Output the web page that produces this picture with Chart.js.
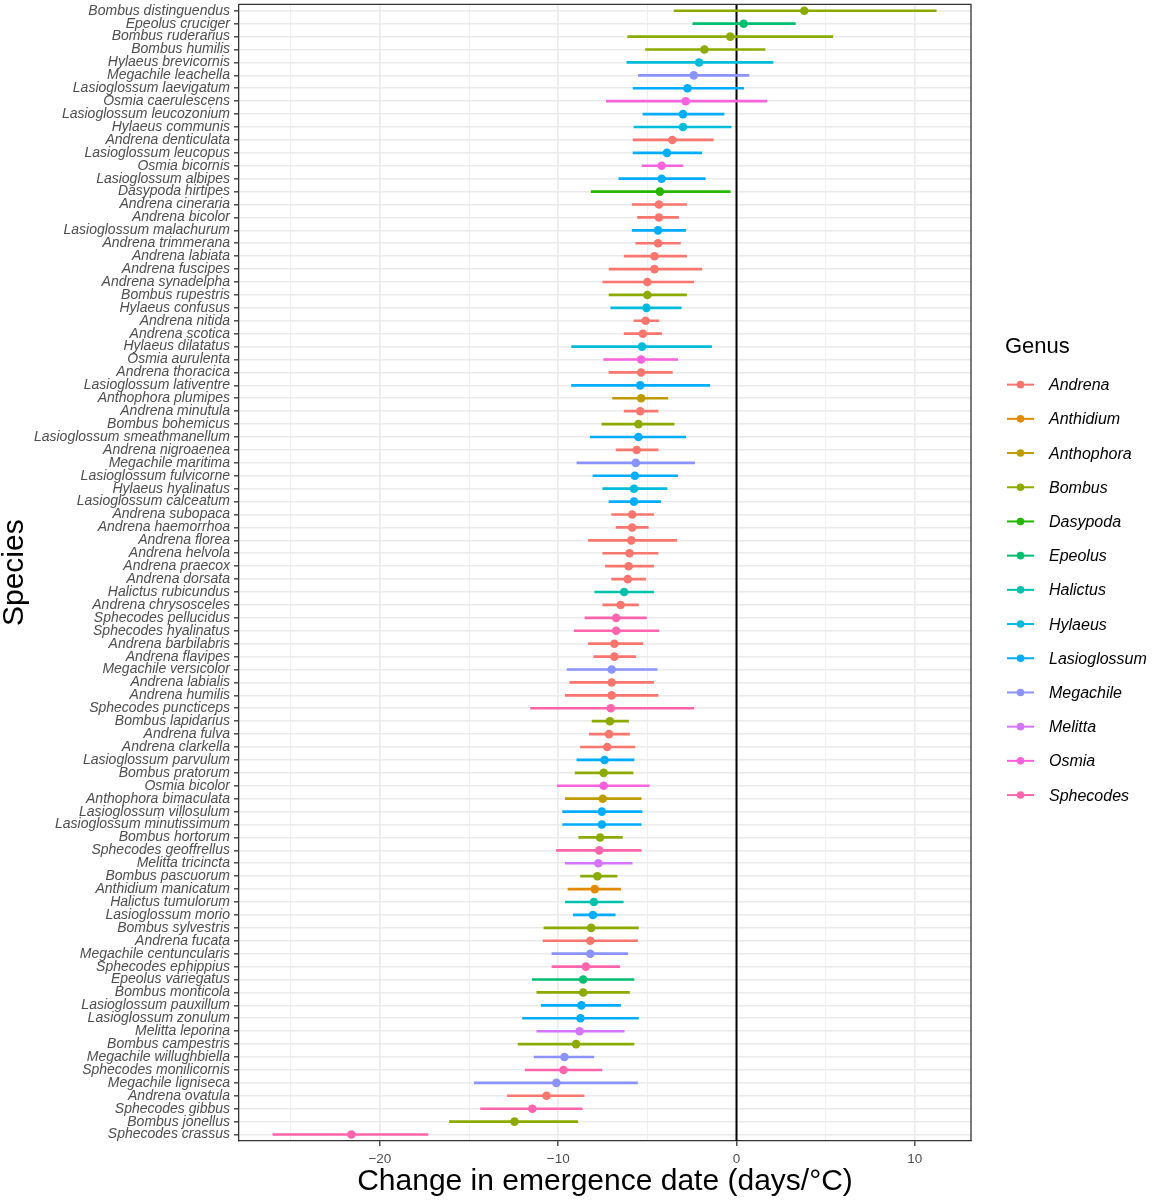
<!DOCTYPE html>
<html>
<head>
<meta charset="utf-8">
<script src="https://cdn.jsdelivr.net/npm/chart.js@4.4.1/dist/chart.umd.min.js"></script>
<style>
  html, body { margin: 0; padding: 0; background: #fff; }
  #wrap { width: 1159px; height: 1200px; }
</style>
</head>
<body>
<div id="wrap"><canvas id="chart"></canvas></div>
<script>
// species, top to bottom
const species = [
  'Bombus distinguendus', 'Epeolus cruciger', 'Bombus ruderarius', 'Bombus humilis',
  'Hylaeus brevicornis', 'Megachile leachella', 'Lasioglossum laevigatum', 'Osmia caerulescens',
  'Lasioglossum leucozonium', 'Hylaeus communis', 'Andrena denticulata', 'Lasioglossum leucopus',
  'Osmia bicornis', 'Lasioglossum albipes', 'Dasypoda hirtipes', 'Andrena cineraria',
  'Andrena bicolor', 'Lasioglossum malachurum', 'Andrena trimmerana', 'Andrena labiata',
  'Andrena fuscipes', 'Andrena synadelpha', 'Bombus rupestris', 'Hylaeus confusus',
  'Andrena nitida', 'Andrena scotica', 'Hylaeus dilatatus', 'Osmia aurulenta',
  'Andrena thoracica', 'Lasioglossum lativentre', 'Anthophora plumipes', 'Andrena minutula',
  'Bombus bohemicus', 'Lasioglossum smeathmanellum', 'Andrena nigroaenea', 'Megachile maritima',
  'Lasioglossum fulvicorne', 'Hylaeus hyalinatus', 'Lasioglossum calceatum', 'Andrena subopaca',
  'Andrena haemorrhoa', 'Andrena florea', 'Andrena helvola', 'Andrena praecox',
  'Andrena dorsata', 'Halictus rubicundus', 'Andrena chrysosceles', 'Sphecodes pellucidus',
  'Sphecodes hyalinatus', 'Andrena barbilabris', 'Andrena flavipes', 'Megachile versicolor',
  'Andrena labialis', 'Andrena humilis', 'Sphecodes puncticeps', 'Bombus lapidarius',
  'Andrena fulva', 'Andrena clarkella', 'Lasioglossum parvulum', 'Bombus pratorum',
  'Osmia bicolor', 'Anthophora bimaculata', 'Lasioglossum villosulum', 'Lasioglossum minutissimum',
  'Bombus hortorum', 'Sphecodes geoffrellus', 'Melitta tricincta', 'Bombus pascuorum',
  'Anthidium manicatum', 'Halictus tumulorum', 'Lasioglossum morio', 'Bombus sylvestris',
  'Andrena fucata', 'Megachile centuncularis', 'Sphecodes ephippius', 'Epeolus variegatus',
  'Bombus monticola', 'Lasioglossum pauxillum', 'Lasioglossum zonulum', 'Melitta leporina',
  'Bombus campestris', 'Megachile willughbiella', 'Sphecodes monilicornis', 'Megachile ligniseca',
  'Andrena ovatula', 'Sphecodes gibbus', 'Bombus jonellus', 'Sphecodes crassus'
];

// change in emergence date (days/°C)
const estimates = [
  3.8, 0.4, -0.35, -1.8, -2.1, -2.4, -2.75, -2.85,
  -3.0, -3.0, -3.6, -3.9, -4.2, -4.2, -4.3, -4.35,
  -4.35, -4.4, -4.4, -4.6, -4.6, -5.0, -5.0, -5.05,
  -5.1, -5.25, -5.3, -5.35, -5.35, -5.4, -5.35, -5.4,
  -5.5, -5.5, -5.6, -5.65, -5.7, -5.75, -5.75, -5.85,
  -5.85, -5.9, -6.0, -6.05, -6.1, -6.3, -6.5, -6.75,
  -6.75, -6.85, -6.85, -7.0, -7.0, -7.0, -7.05, -7.1,
  -7.15, -7.25, -7.4, -7.45, -7.45, -7.5, -7.55, -7.55,
  -7.65, -7.7, -7.75, -7.8, -7.95, -8.0, -8.05, -8.15,
  -8.2, -8.2, -8.45, -8.6, -8.6, -8.7, -8.75, -8.8,
  -9.0, -9.65, -9.7, -10.1, -10.65, -11.45, -12.45, -21.6
];

const lowerCI = [
  -3.5, -2.45, -6.1, -5.1, -6.15, -5.5, -5.8, -7.3,
  -5.25, -5.75, -5.8, -5.8, -5.3, -6.6, -8.15, -5.85,
  -5.55, -5.85, -5.65, -6.3, -7.15, -7.5, -7.15, -7.05,
  -5.75, -6.3, -9.25, -7.45, -7.15, -9.25, -6.95, -6.3,
  -7.55, -8.2, -6.75, -8.95, -8.05, -7.5, -7.15, -7.0,
  -6.75, -8.3, -7.5, -7.35, -7.0, -7.95, -7.5, -8.5,
  -9.1, -8.3, -8.0, -9.5, -9.35, -9.6, -11.55, -8.1,
  -8.25, -8.75, -8.95, -9.05, -10.05, -9.6, -9.75, -9.75,
  -8.85, -10.1, -9.6, -8.75, -9.45, -9.6, -9.15, -10.8,
  -10.85, -10.35, -10.35, -11.45, -11.2, -10.95, -12.0, -11.2,
  -12.25, -11.35, -11.85, -14.7, -12.85, -14.35, -16.1, -26.0
];

const upperCI = [
  11.2, 3.3, 5.4, 1.6, 2.05, 0.7, 0.4, 1.7,
  -0.7, -0.3, -1.3, -1.95, -3.0, -1.75, -0.35, -2.8,
  -3.25, -2.85, -3.15, -2.8, -1.95, -2.4, -2.8, -3.1,
  -4.35, -4.2, -1.4, -3.3, -3.6, -1.5, -3.85, -4.4,
  -3.5, -2.85, -4.4, -2.35, -3.3, -3.9, -4.25, -4.65,
  -4.95, -3.35, -4.4, -4.65, -5.1, -4.65, -5.5, -5.05,
  -4.35, -5.25, -5.65, -4.45, -4.65, -4.4, -2.4, -6.05,
  -6.0, -5.7, -5.75, -5.8, -4.9, -5.35, -5.3, -5.35,
  -6.4, -5.35, -5.85, -6.7, -6.5, -6.35, -6.8, -5.5,
  -5.55, -6.1, -6.55, -5.75, -6.0, -6.5, -5.5, -6.3,
  -5.75, -8.0, -7.55, -5.55, -8.55, -8.65, -8.9, -17.3
];

const genera = ['Andrena', 'Anthidium', 'Anthophora', 'Bombus', 'Dasypoda', 'Epeolus',
  'Halictus', 'Hylaeus', 'Lasioglossum', 'Megachile', 'Melitta', 'Osmia', 'Sphecodes'];
const genusColors = ['#F8766D', '#E18A00', '#BE9C00', '#8CAB00', '#24B700', '#00BE70',
  '#00C1AB', '#00BBDA', '#00ACFC', '#8B93FF', '#D575FE', '#F962DD', '#FF65AC'];

const colorOf = name => genusColors[genera.indexOf(name.split(' ')[0])];
const colors = species.map(colorOf);

const TEXT = "'Liberation Sans', Arial, sans-serif";

// top and right panel border plus the zero line
const panelPlugin = {
  id: 'panel',
  beforeDatasetsDraw(chart) {
    const { ctx, chartArea: a, scales } = chart;
    const x0 = scales.x.getPixelForValue(0);
    ctx.save();
    ctx.strokeStyle = '#000';
    ctx.lineWidth = 2;
    ctx.beginPath();
    ctx.moveTo(x0, a.top);
    ctx.lineTo(x0, a.bottom);
    ctx.stroke();
    ctx.restore();
  },
  afterDraw(chart) {
    const { ctx, chartArea: a } = chart;
    ctx.save();
    ctx.strokeStyle = '#333';
    ctx.lineWidth = 1.3;
    ctx.beginPath();
    ctx.moveTo(a.left, a.top);
    ctx.lineTo(a.right, a.top);
    ctx.lineTo(a.right, a.bottom);
    ctx.stroke();
    ctx.restore();
  }
};

// ggplot-style legend: line with a dot, italic genus names
const genusLegend = {
  id: 'genusLegend',
  afterDraw(chart) {
    const { ctx, chartArea: a } = chart;
    const mid = (a.top + a.bottom) / 2;
    const left = a.right + 34;
    const step = 34.2;
    ctx.save();
    ctx.fillStyle = '#000';
    ctx.textBaseline = 'middle';
    ctx.textAlign = 'left';
    ctx.font = `22px ${TEXT}`;
    ctx.fillText('Genus', left, mid - 226);
    ctx.font = `italic 16px ${TEXT}`;
    genera.forEach((g, i) => {
      const y = mid - 188 + i * step;
      ctx.strokeStyle = genusColors[i];
      ctx.lineWidth = 2;
      ctx.beginPath();
      ctx.moveTo(left + 2, y);
      ctx.lineTo(left + 29, y);
      ctx.stroke();
      ctx.fillStyle = genusColors[i];
      ctx.beginPath();
      ctx.arc(left + 15.5, y, 3.8, 0, Math.PI * 2);
      ctx.fill();
      ctx.fillStyle = '#000';
      ctx.fillText(g, left + 44, y + 1);
    });
    ctx.restore();
  }
};

new Chart(document.getElementById('chart'), {
  type: 'bar',
  data: {
    labels: species,
    datasets: [
      {
        type: 'line',
        data: estimates,
        showLine: false,
        pointRadius: 4.3,
        pointHoverRadius: 4.3,
        pointBorderWidth: 0,
        pointBackgroundColor: colors,
        order: 0
      },
      {
        type: 'bar',
        data: species.map((s, i) => [lowerCI[i], upperCI[i]]),
        backgroundColor: colors,
        borderWidth: 0,
        barThickness: 2,
        order: 1
      }
    ]
  },
  options: {
    indexAxis: 'y',
    responsive: true,
    maintainAspectRatio: false,
    animation: false,
    layout: { padding: { top: 3, right: 188, left: 0, bottom: 0 } },
    plugins: {
      legend: { display: false },
      tooltip: { enabled: false }
    },
    scales: {
      x: {
        type: 'linear',
        min: -27.9,
        max: 13.15,
        afterBuildTicks: scale => {
          scale.ticks = [-25, -20, -15, -10, -5, 0, 5, 10].map(v => ({ value: v }));
        },
        afterFit: scale => { scale.height = 59; },
        ticks: {
          color: '#4D4D4D',
          font: { family: TEXT, size: 13.5 },
          padding: 5,
          maxRotation: 0,
          callback: v => (v % 10 === 0 ? (v < 0 ? '\u2212' + Math.abs(v) : String(v)) : '')
        },
        grid: {
          color: '#EBEBEB',
          lineWidth: c => (c.tick && c.tick.value % 10 === 0 ? 1.6 : 0.8),
          tickColor: c => (c.tick && c.tick.value % 10 === 0 ? '#333' : 'rgba(0,0,0,0)'),
          tickWidth: 1.3,
          tickLength: 5
        },
        border: { color: '#333', width: 1.3 },
        title: {
          display: true,
          text: 'Change in emergence date (days/°C)',
          color: '#000',
          font: { family: TEXT, size: 30, lineHeight: 1 },
          padding: { top: 0, bottom: 3 }
        }
      },
      y: {
        type: 'category',
        offset: true,
        afterFit: scale => {
          scale.width = 239;
          scale.paddingTop = 0;
          scale.paddingBottom = 0;
        },
        ticks: {
          autoSkip: false,
          color: '#4D4D4D',
          font: { family: TEXT, size: 14, style: 'italic' },
          padding: 4
        },
        grid: {
          offset: false,
          color: '#EBEBEB',
          lineWidth: 1.6,
          tickColor: '#333',
          tickWidth: 1.3,
          tickLength: 5
        },
        border: { color: '#333', width: 1.3 },
        title: {
          display: true,
          text: 'Species',
          color: '#000',
          font: { family: TEXT, size: 30, lineHeight: 1 },
          padding: { top: 0, bottom: 0 }
        }
      }
    }
  },
  plugins: [panelPlugin, genusLegend]
});
</script>
</body>
</html>
